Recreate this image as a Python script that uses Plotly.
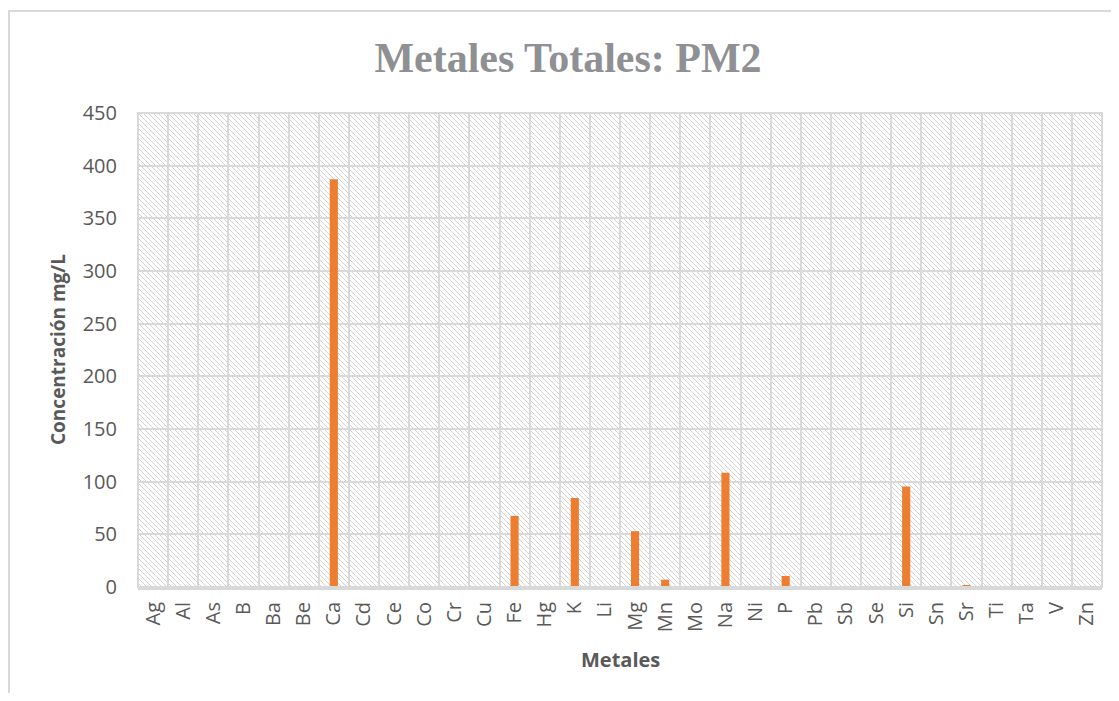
import base64
import plotly.graph_objects as go

metales = ["Ag", "Al", "As", "B", "Ba", "Be", "Ca", "Cd", "Ce", "Co", "Cr", "Cu",
           "Fe", "Hg", "K", "Li", "Mg", "Mn", "Mo", "Na", "Ni", "P", "Pb", "Sb",
           "Se", "Si", "Sn", "Sr", "Ti", "Ta", "V", "Zn"]
concentracion = [0.1, 0.3, 0.05, 0.05, 0.1, 0.0, 387, 0.0, 0.0, 0.0, 0.05, 0.1,
                 67.5, 0.0, 84.5, 0.05, 53.0, 7.0, 0.0, 108.5, 0.05, 10.5, 0.05, 0.0,
                 0.05, 95.5, 0.0, 1.5, 0.05, 0.0, 0.05, 0.3]
y_ticks = [0, 50, 100, 150, 200, 250, 300, 350, 400, 450]

# page body has an 8px margin: work in figure pixels = reference pixels - 8
OFF = 8
W, H = 1119 - 2 * OFF, 701 - 2 * OFF
L, R, T, B = 138 - OFF, 1102 - OFF, 113 - OFF, 587 - OFF
pw, ph = R - L, B - T

svg = f'''<svg xmlns="http://www.w3.org/2000/svg" width="{pw}" height="{ph}" viewBox="0 0 {pw} {ph}" preserveAspectRatio="none">
<defs><pattern id="p" patternUnits="userSpaceOnUse" width="5" height="5">
<rect width="5" height="5" fill="white"/>
<path d="M-1,-1 L6,6 M-1,4 L1,6 M4,-1 L6,1" stroke="#d3d3d3" stroke-width="1"/>
</pattern></defs>
<rect width="{pw}" height="{ph}" fill="url(#p)"/></svg>'''
uri = "data:image/svg+xml;base64," + base64.b64encode(svg.encode()).decode()

fig = go.Figure()
fig.add_trace(go.Bar(x=metales, y=concentracion, marker=dict(color="#ED7D31", line=dict(width=0))))

def px_x(p):
    return (p - OFF - L) / pw

def px_y(p):
    return (B - (p - OFF)) / ph

fig.update_layout(
    width=W, height=H,
    margin=dict(l=L, r=W - R, t=T, b=H - B, autoexpand=False),
    paper_bgcolor="white",
    plot_bgcolor="rgba(0,0,0,0)",
    bargap=0.73,
    showlegend=False,
    title=dict(text="<b>Metales Totales: PM2</b>", x=px_x(568), xref="paper", xanchor="center",
               y=1 - (57 - OFF) / H, yanchor="middle",
               font=dict(family="Liberation Serif", size=42, color="#8f9094")),
    images=[dict(source=uri, xref="paper", yref="paper", x=0, y=1, sizex=1, sizey=1,
                 xanchor="left", yanchor="top", sizing="stretch", layer="below")],
    xaxis=dict(type="category", tickson="boundaries", showgrid=True, gridcolor="#d9d9d9",
               gridwidth=2, ticks="", tickangle=-90, showline=True, linecolor="#d9d9d9",
               linewidth=3, mirror=False, ticklabelstandoff=4,
               tickfont=dict(family="Open Sans", size=20, color="#595959")),
    yaxis=dict(range=[0, 450], tickvals=y_ticks, showgrid=True, gridcolor="#d9d9d9",
               gridwidth=2, zeroline=False, ticks="", ticklabelstandoff=20,
               tickfont=dict(family="Open Sans", size=20, color="#595959")),
    annotations=[
        dict(text="<b>Metales</b>", xref="paper", yref="paper", x=px_x(620), y=px_y(659),
             xanchor="center", yanchor="middle", showarrow=False,
             font=dict(family="Open Sans", size=20, color="#595959")),
        dict(text="<b>Concentración mg/L</b>", xref="paper", yref="paper", x=px_x(58), y=px_y(350),
             xanchor="center", yanchor="middle", showarrow=False, textangle=-90,
             font=dict(family="Open Sans", size=19, color="#595959")),
    ],
    shapes=[
        dict(type="rect", xref="paper", yref="paper", x0=px_x(9), x1=px_x(1140),
             y0=px_y(730), y1=px_y(11), line=dict(color="#d9d9d9", width=2), layer="below"),
        dict(type="rect", xref="paper", yref="paper", x0=0, x1=1, y0=0, y1=1,
             line=dict(color="#d9d9d9", width=2), layer="above"),
    ],
)

fig.write_html("out.html")
